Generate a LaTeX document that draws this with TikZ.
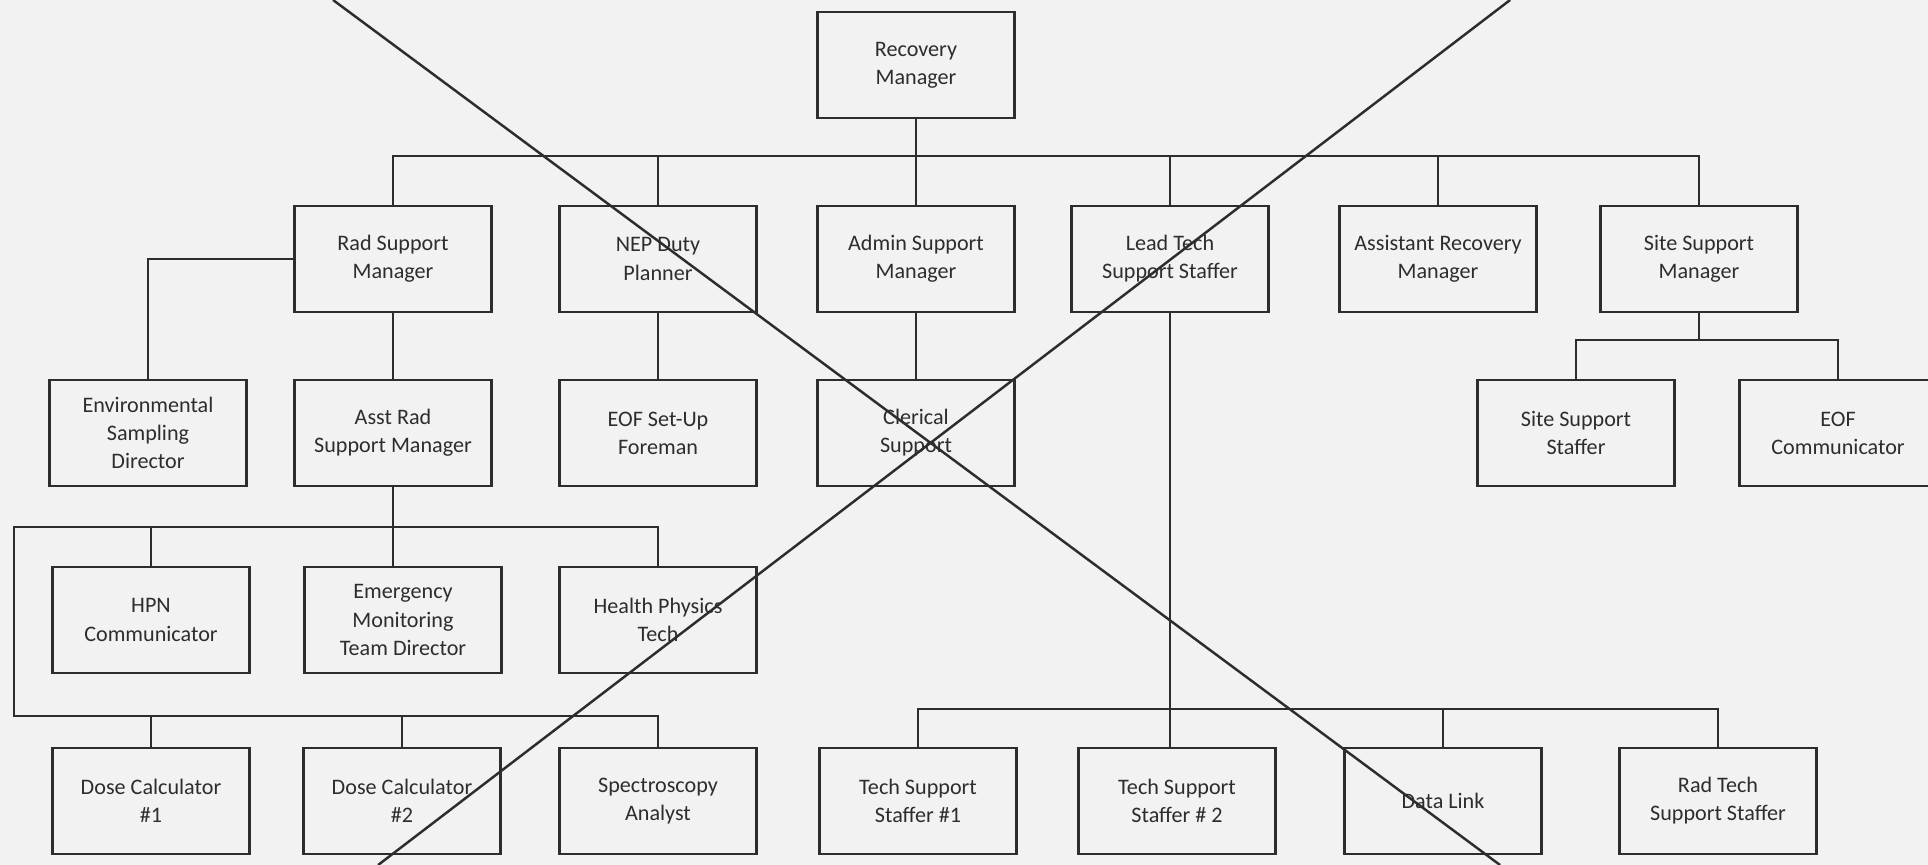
\documentclass[tikz,border=0pt]{standalone}
\usepackage{fontspec}
\setmainfont{Carlito}
\usepackage{xcolor}
\definecolor{paper}{RGB}{242,242,242}
\definecolor{ink}{RGB}{45,45,45}

\begin{document}
\begin{tikzpicture}[scale=0.1]
\tikzstyle{every node}+=[inner sep=0pt]
\tikzstyle{post}=[draw=ink, line width=0.7pt, minimum width=19.7mm, minimum height=10.6mm, align=center, text=ink, font=\fontsize{6.3}{8}\selectfont]
\tikzstyle{wire}=[draw=ink, line width=0.7pt]
\fill [paper] (0,0) rectangle (192.8,-86.5);
\useasboundingbox (0,0) rectangle (192.8,-86.5);
\node [post] (rm) at (91.6,-6.5) {Recovery\\Manager};
\node [post] (rsm) at (39.3,-25.9) {Rad Support\\Manager};
\node [post] (nep) at (65.8,-25.9) {NEP Duty\\Planner};
\node [post] (asm) at (91.6,-25.9) {Admin Support\\Manager};
\node [post] (lts) at (117.0,-25.9) {Lead Tech\\Support Staffer};
\node [post] (arm) at (143.8,-25.9) {Assistant Recovery\\Manager};
\node [post] (ssm) at (169.9,-25.9) {Site Support\\Manager};
\node [post] (esd) at (14.8,-43.3) {Environmental\\Sampling\\Director};
\node [post] (arsm) at (39.3,-43.3) {Asst Rad\\Support Manager};
\node [post] (eof) at (65.8,-43.3) {EOF Set-Up\\Foreman};
\node [post] (cls) at (91.6,-43.3) {Clerical\\Support};
\node [post] (sss) at (157.6,-43.3) {Site Support\\Staffer};
\node [post] (eofc) at (183.8,-43.3) {EOF\\Communicator};
\node [post] (hpn) at (15.1,-62.0) {HPN\\Communicator};
\node [post] (emtd) at (40.3,-62.0) {Emergency\\Monitoring\\Team Director};
\node [post] (hpt) at (65.8,-62.0) {Health Physics\\Tech};
\node [post] (dc1) at (15.1,-80.1) {Dose Calculator\\\#1};
\node [post] (dc2) at (40.2,-80.1) {Dose Calculator\\\#2};
\node [post] (spa) at (65.8,-80.1) {Spectroscopy\\Analyst};
\node [post] (tss1) at (91.8,-80.1) {Tech Support\\Staffer \#1};
\node [post] (tss2) at (117.7,-80.1) {Tech Support\\Staffer \# 2};
\node [post] (dl) at (144.3,-80.1) {Data Link};
\node [post] (rts) at (171.8,-80.1) {Rad Tech\\Support Staffer};
\coordinate (top bus) at (0,-15.6);
\coordinate (site bus) at (0,-34.0);
\coordinate (rad bus) at (1.4,-52.7);
\coordinate (dose bus) at (1.4,-71.6);
\coordinate (tech bus) at (0,-70.9);
\draw [wire] (rm.south) -- (asm.north);
\draw [wire] (rsm.north) |- (ssm.north |- top bus) -- (ssm.north);
\foreach \n in {nep,lts,arm}
  \draw [wire] (\n.north) -- (\n.north |- top bus);
\draw [wire] (rsm.west) -| (esd.north);
\draw [wire] (rsm.south) -- (arsm.north);
\draw [wire] (nep.south) -- (eof.north);
\draw [wire] (asm.south) -- (cls.north);
\draw [wire] (ssm.south) -- (ssm.south |- site bus);
\draw [wire] (sss.north) |- (eofc.north |- site bus) -- (eofc.north);
\draw [wire] (arsm.south) -- (arsm.south |- emtd.north);
\draw [wire] (hpt.north) |- (rad bus) -- (dose bus) -| (spa.north);
\draw [wire] (hpn.north) -- (hpn.north |- rad bus);
\foreach \n in {dc1,dc2}
  \draw [wire] (\n.north) -- (\n.north |- dose bus);
\draw [wire] (lts.south) -- (lts.south |- tss2.north);
\draw [wire] (tss1.north) |- (rts.north |- tech bus) -- (rts.north);
\draw [wire] (dl.north) -- (dl.north |- tech bus);
\coordinate (strike a1) at (33.3,0);
\coordinate (strike a2) at (150.0,-86.5);
\coordinate (strike b1) at (151.0,0);
\coordinate (strike b2) at (37.8,-86.5);
\draw [wire] (strike a1) -- (strike a2);
\draw [wire] (strike b1) -- (strike b2);
\end{tikzpicture}
\end{document}
